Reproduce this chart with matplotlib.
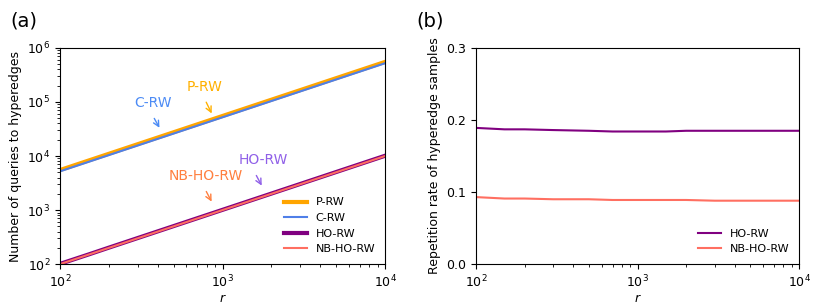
import matplotlib.pyplot as plt
import numpy as np

# r values (number of samples)
r = [100, 150, 200, 300, 500, 700, 1000, 1500, 2000, 3000, 5000, 7000, 10000]

# (a) number of queries to hyperedges
p_rw = [5.5e3, 8.25e3, 1.1e4, 1.65e4, 2.75e4, 3.85e4, 5.5e4, 8.25e4, 1.1e5, 1.65e5, 2.75e5, 3.85e5, 5.5e5]
c_rw = [5.2e3, 7.8e3, 1.04e4, 1.56e4, 2.6e4, 3.64e4, 5.2e4, 7.8e4, 1.04e5, 1.56e5, 2.6e5, 3.64e5, 5.2e5]
ho_rw = [101, 151, 202, 303, 505, 707, 1010, 1515, 2020, 3030, 5050, 7070, 10100]
nb_ho_rw = [100, 150, 200, 300, 500, 700, 1000, 1500, 2000, 3000, 5000, 7000, 10000]

# (b) repetition rate of hyperedge samples
rep_ho = [0.189, 0.187, 0.187, 0.186, 0.185, 0.184, 0.184, 0.184, 0.185, 0.185, 0.185, 0.185, 0.185]
rep_nb = [0.093, 0.091, 0.091, 0.090, 0.090, 0.089, 0.089, 0.089, 0.089, 0.088, 0.088, 0.088, 0.088]

c_p = '#FFA500'
c_c = '#4F7FE8'
c_ho = '#800080'
c_nb = '#FF6F61'

fig = plt.figure(figsize=(8.3, 3.05), dpi=100)
ax1 = fig.add_axes([0.0723, 0.134, 0.3916, 0.709])
ax2 = fig.add_axes([0.5735, 0.134, 0.3892, 0.709])

ax1.plot(r, p_rw, color=c_p, lw=3, label='P-RW')
ax1.plot(r, c_rw, color=c_c, lw=1.5, label='C-RW')
ax1.plot(r, ho_rw, color=c_ho, lw=3, label='HO-RW')
ax1.plot(r, nb_ho_rw, color=c_nb, lw=1.5, label='NB-HO-RW')
ax1.set_xscale('log')
ax1.set_yscale('log')
ax1.set_xlim(1e2, 1e4)
ax1.set_ylim(1e2, 1e6)
ax1.set_xlabel('$r$', fontsize=9, labelpad=1)
ax1.set_ylabel('Number of queries to hyperedges', fontsize=9)
ax1.tick_params(labelsize=9)
ax1.legend(loc='lower right', frameon=False, fontsize=8)

# annotations with arrows
ann = [('P-RW', '#FFB000', (780, 1.1e5), (873, 5.5e4), (780, 1.9e5)),
       ('C-RW', '#4C8BF5', (373, 5.5e4), (417, 3.0e4), (373, 9.5e4)),
       ('HO-RW', '#9060E8', (1585, 4840), (1775, 2550), (1775, 8400)),
       ('NB-HO-RW', '#FF7F3F', (780, 2450), (873, 1290), (791, 4270))]
for txt, col, tail, tip, tpos in ann:
    ax1.annotate('', xy=tip, xytext=tail,
                 arrowprops=dict(arrowstyle='->', color=col, lw=1))
    ax1.text(tpos[0], tpos[1], txt, color=col, fontsize=10, ha='center', va='center')

ax2.plot(r, rep_ho, color=c_ho, lw=1.5, label='HO-RW')
ax2.plot(r, rep_nb, color=c_nb, lw=1.5, label='NB-HO-RW')
ax2.set_xscale('log')
ax2.set_xlim(1e2, 1e4)
ax2.set_ylim(0, 0.3)
ax2.set_yticks([0.0, 0.1, 0.2, 0.3])
ax2.set_xlabel('$r$', fontsize=9, labelpad=1)
ax2.set_ylabel('Repetition rate of hyperedge samples', fontsize=9)
ax2.tick_params(labelsize=9)
ax2.legend(loc='lower right', frameon=False, fontsize=8)

fig.text(0.012, 0.93, '(a)', fontsize=14, va='center')
fig.text(0.502, 0.93, '(b)', fontsize=14, va='center')

plt.savefig('out.png', dpi=100)
